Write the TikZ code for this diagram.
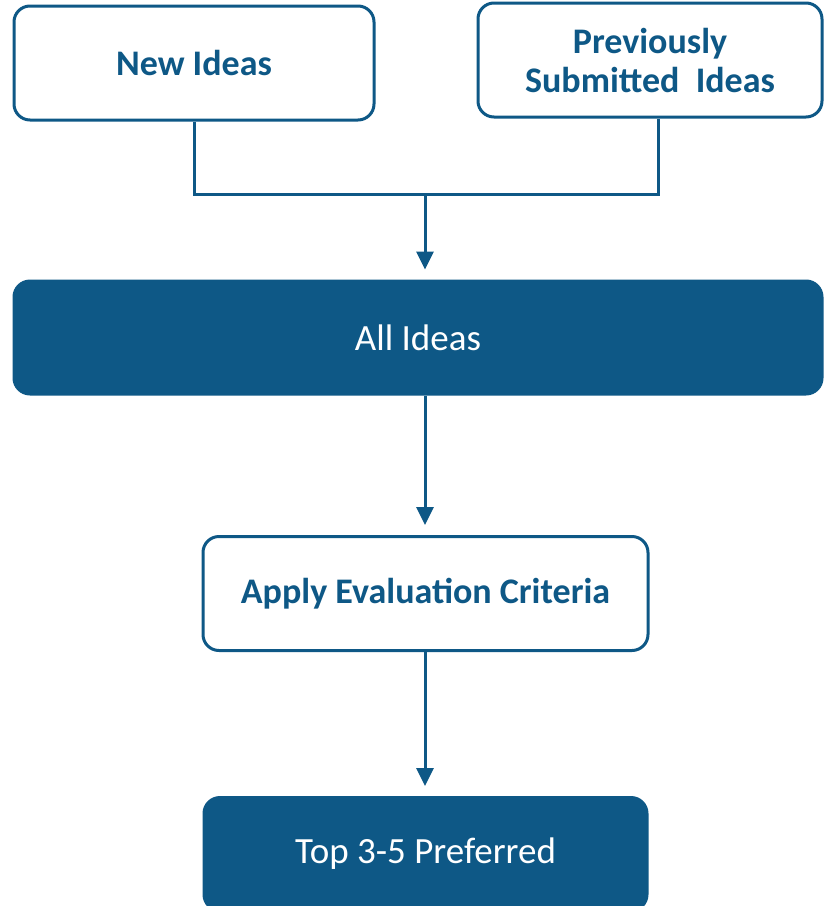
\documentclass[tikz,border=0pt]{standalone}
\usepackage{fontspec}
\setmainfont{Carlito}
\usepackage{tikz}
\usetikzlibrary{positioning}
\usetikzlibrary{arrows.meta}
\definecolor{ideablue}{RGB}{14,88,134}
\tikzset{
idea_box/.style={rectangle, rounded corners=8pt, draw=ideablue, line width=1.5pt, fill=white, text=ideablue, font=\bfseries\fontsize{18}{19.5}\selectfont, align=center, minimum height=57pt},
stage_box/.style={rectangle, rounded corners=8pt, draw=ideablue, line width=1.5pt, fill=ideablue, text=white, font=\fontsize{18.5}{20}\selectfont, minimum height=56.5pt},
flow/.style={draw=ideablue, line width=1.5pt},
flow_arrow/.style={flow, -{Triangle[length=9pt,width=8.5pt]}, shorten >=5pt}
}

\begin{document}
\begin{tikzpicture}
    \useasboundingbox (0,0) rectangle (412pt,-453pt);
    \node[idea_box, minimum width=180pt] (new_ideas) at (97pt,-31.5pt) {New Ideas};
    \node[idea_box, minimum width=172pt] (prev_ideas) at (325pt,-30pt) {Previously\\Submitted\ \ Ideas};
    \coordinate (join) at (212.5pt,-97pt);
    \draw[flow] (new_ideas.south) |- (join) -| ([xshift=4pt]prev_ideas.south);

    \node[stage_box, minimum width=404pt] (all_ideas) at (209pt,-168.75pt) {All Ideas};
    \draw[flow_arrow] (join) -- (join |- all_ideas.north);

    \node[idea_box, minimum width=222.5pt] (apply_criteria) at (212.75pt,-296.75pt) {Apply Evaluation Criteria};
    \draw[flow_arrow] (all_ideas.south -| join) -- (join |- apply_criteria.north);

    \node[stage_box, minimum width=221.5pt] (top_ideas) [below=72pt of apply_criteria] {Top 3-5 Preferred};
    \draw[flow_arrow] (apply_criteria.south -| join) -- (join |- top_ideas.north);
\end{tikzpicture}
\end{document}
